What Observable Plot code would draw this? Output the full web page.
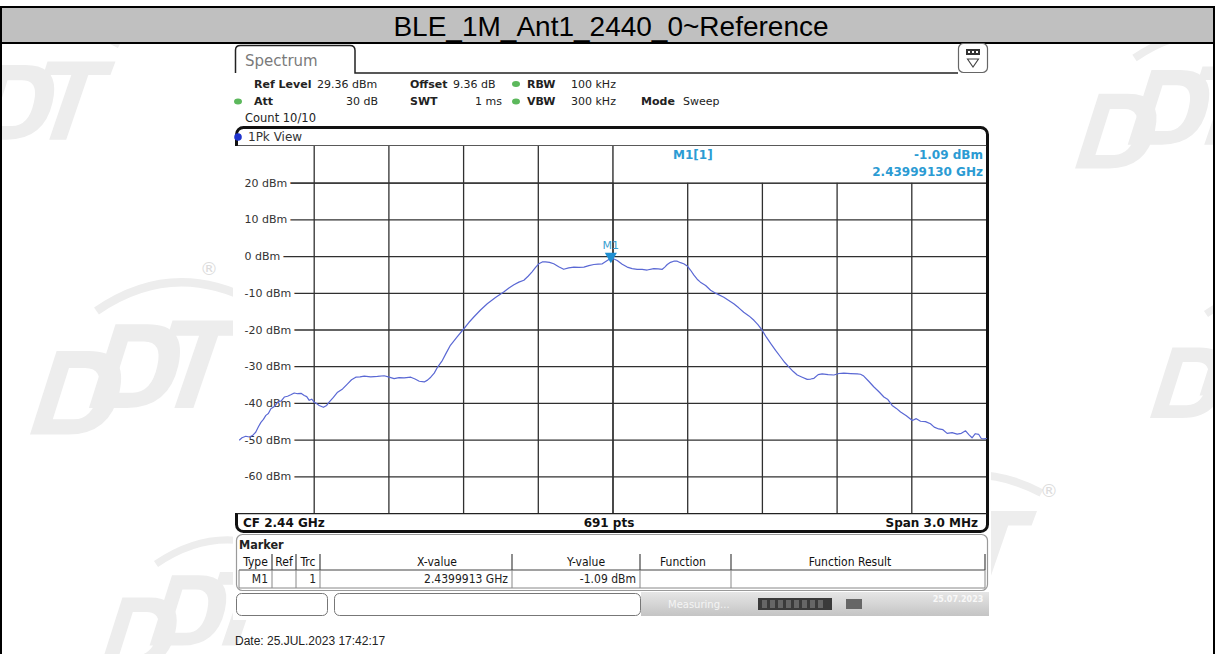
<!DOCTYPE html>
<html><head><meta charset="utf-8">
<script src="https://cdn.jsdelivr.net/npm/d3@7"></script>
<script src="https://cdn.jsdelivr.net/npm/@observablehq/plot@0.6"></script>
<style>
html,body{margin:0;padding:0;background:#fff;}
#page{position:relative;width:1215px;height:654px;overflow:hidden;background:#fff;}
#chrome,#over{position:absolute;left:0;top:0;}
#plot{position:absolute;left:239px;top:146px;width:747px;height:367px;}
</style></head><body>
<div id="page"><svg id="chrome" width="1215" height="654"></svg><div id="plot"></div><svg id="over" width="1215" height="654" style="pointer-events:none"></svg></div>
<script>
// ---------------- data ----------------
const titleText = "BLE_1M_Ant1_2440_0~Reference";
const dateText = "Date: 25.JUL.2023  17:42:17";
const centerFreqGHz = 2.44;
const spanMHz = 3.0;
const refLevelDbm = 29.36;
const sweepPoints = 691;
const yTickLabels = ["20 dBm","10 dBm","0 dBm","-10 dBm","-20 dBm","-30 dBm","-40 dBm","-50 dBm","-60 dBm"];
const headerRow1 = [["Ref Level",true],["29.36 dBm",false],["Offset",true],["9.36 dB",false],["RBW",true],["100 kHz",false]];
const headerRow2 = [["Att",true],["30 dB",false],["SWT",true],["1 ms",false],["VBW",true],["300 kHz",false],["Mode",true],["Sweep",false]];
const headerRow3 = "Count 10/10";
const traceName = "1Pk View";
// trace: frequency offset from centre (MHz) and level (dBm)
const traceOffsetMHz = [
 -1.500,-1.490,-1.475,-1.460,-1.448,-1.435,-1.424,-1.414,-1.404,-1.394,-1.384,-1.374,-1.360,-1.347,-1.333,-1.320,
 -1.307,-1.294,-1.280,-1.267,-1.253,-1.240,-1.230,-1.220,-1.210,-1.200,-1.190,-1.180,-1.163,-1.150,-1.140,-1.123,
 -1.106,-1.086,-1.066,-1.050,-1.033,-1.016,-0.999,-0.973,-0.946,-0.919,-0.899,-0.879,-0.859,-0.839,-0.812,-0.795,
 -0.778,-0.758,-0.745,-0.732,-0.718,-0.705,-0.685,-0.669,-0.653,-0.626,-0.599,-0.579,-0.559,-0.532,-0.505,-0.472,
 -0.439,-0.418,-0.398,-0.378,-0.358,-0.341,-0.325,-0.311,-0.298,-0.284,-0.271,-0.255,-0.238,-0.218,-0.198,-0.178,
 -0.157,-0.137,-0.117,-0.097,-0.077,-0.060,-0.043,-0.023,-0.0087,0.004,0.017,0.037,0.057,0.077,0.097,0.117,
 0.137,0.164,0.181,0.198,0.208,0.218,0.231,0.244,0.258,0.271,0.284,0.298,0.311,0.325,0.338,0.351,
 0.372,0.392,0.412,0.445,0.465,0.485,0.505,0.525,0.546,0.566,0.582,0.599,0.616,0.633,0.653,0.673,
 0.690,0.706,0.723,0.740,0.760,0.780,0.794,0.807,0.824,0.840,0.864,0.887,0.907,0.927,0.954,0.981,
 0.994,1.007,1.027,1.047,1.067,1.088,1.104,1.121,1.138,1.155,1.178,1.202,1.218,1.235,1.255,1.275,
 1.290,1.308,1.325,1.342,1.362,1.382,1.399,1.416,1.430,1.442,1.455,1.469,1.479,1.489,1.500];
const traceLevelDbm = [
 -50.6,-50.0,-49.6,-49.8,-49.4,-48.5,-47.0,-45.8,-45.0,-43.9,-43.4,-42.1,-41.5,-40.3,-40.0,-38.9,
 -38.7,-38.3,-37.8,-38.0,-37.9,-38.5,-38.8,-39.8,-39.5,-40.3,-40.7,-41.2,-41.7,-41.2,-40.3,-39.0,
 -37.6,-36.7,-35.3,-34.2,-33.5,-33.4,-33.2,-33.4,-33.3,-33.1,-33.5,-33.9,-33.6,-33.7,-33.5,-34.0,
 -34.6,-34.8,-34.3,-33.5,-32.4,-30.8,-28.9,-26.8,-24.8,-22.5,-20.3,-18.6,-17.1,-15.2,-13.5,-11.8,
 -10.3,-9.2,-8.3,-7.6,-7.1,-6.0,-4.8,-3.6,-2.6,-2.1,-2.1,-2.2,-2.6,-3.4,-4.1,-3.7,
 -3.5,-3.6,-3.5,-3.1,-2.8,-2.7,-2.6,-1.7,-1.09,-1.3,-1.7,-2.7,-3.5,-3.9,-4.1,-4.1,
 -4.3,-3.9,-4.0,-4.1,-3.5,-2.8,-2.2,-1.9,-1.9,-2.3,-2.6,-3.2,-4.3,-5.7,-6.8,-7.6,
 -8.5,-9.8,-10.6,-11.7,-12.6,-13.5,-14.6,-15.8,-16.8,-18.0,-19.2,-20.7,-22.6,-24.3,-26.2,-28.0,
 -29.5,-30.7,-31.9,-32.9,-33.5,-34.1,-34.0,-33.8,-32.8,-32.6,-32.8,-32.9,-32.5,-32.4,-32.5,-32.6,
 -32.7,-33.2,-34.6,-36.1,-37.4,-38.9,-39.6,-41.2,-42.0,-43.0,-44.0,-45.3,-44.8,-45.5,-45.6,-46.2,
 -47.1,-47.6,-47.8,-48.8,-48.6,-49.0,-48.8,-48.1,-49.2,-50.0,-48.9,-49.1,-50.2,-50.3,-50.2];
const markerName = "M1";
const markerFreqGHz = 2.4399913;
const markerLevelDbm = -1.09;
const markerInfoFreq = "2.43999130 GHz";
const tableColumns = ["Type","Ref","Trc","X-value","Y-value","Function","Function Result"];
const tableRow = [markerName, "", "1", markerFreqGHz + " GHz", markerLevelDbm.toFixed(2) + " dBm", "", ""];

// ---------------- chrome ----------------
const F = "DejaVu Sans";
const svg = d3.select("#chrome");
function txt(g, s, x, y, o = {}) {
  return g.append("text").attr("x", x).attr("y", y).attr("dominant-baseline", "central")
    .attr("font-family", o.ff || F).attr("font-size", o.fs || 11).attr("font-weight", o.fw || "normal")
    .attr("fill", o.fill || "#222").attr("text-anchor", o.anchor || "start").text(s);
}
function rrect(g, x, y, w, h, r, o = {}) {
  return g.append("rect").attr("x", x).attr("y", y).attr("width", w).attr("height", h).attr("rx", r)
    .attr("fill", o.fill || "none").attr("stroke", o.stroke || "none").attr("stroke-width", o.sw || 1);
}
function line(g, x1, y1, x2, y2, stroke, sw) {
  g.append("line").attr("x1", x1).attr("y1", y1).attr("x2", x2).attr("y2", y2).attr("stroke", stroke).attr("stroke-width", sw);
}
// faint logo watermarks (decorative shapes)
function logo(x, y, s) {
  const g = svg.append("g").attr("transform", `translate(${x},${y}) scale(${s})`).attr("fill", "#ededed");
  const D = "M0,110 L28,22 L62,22 Q104,22 94,66 Q84,110 40,110 Z M24,94 L41,40 L58,40 Q78,40 72,66 Q66,94 46,94 Z";
  g.append("path").attr("d", D).attr("fill-rule", "evenodd");
  g.append("path").attr("d", D).attr("fill-rule", "evenodd").attr("transform", "translate(62,-28)");
  g.append("path").attr("d", "M150,-10 L230,-10 L224,6 L198,6 L172,82 L152,82 L178,6 L145,6 Z");
  g.append("path").attr("d", "M70,-20 Q150,-75 235,-30").attr("fill", "none").attr("stroke", "#ededed").attr("stroke-width", 9);
}
logo(-80, 70, 0.85);
logo(30, 330, 0.95);
logo(1075, 75, 0.85);
logo(1150, 330, 0.8);
logo(830, 520, 0.9);
logo(100, 580, 0.8);
txt(svg, "®", 200, 268, {fs: 18, fill: "#dcdcdc"});
txt(svg, "®", 1040, 490, {fs: 18, fill: "#dcdcdc"});

// page frame + title bar
svg.append("rect").attr("x", 0).attr("y", 6).attr("width", 1215).attr("height", 2).attr("fill", "#000");
svg.append("rect").attr("x", 0).attr("y", 8).attr("width", 1215).attr("height", 34).attr("fill", "#c0c0c0");
svg.append("rect").attr("x", 0).attr("y", 42).attr("width", 1215).attr("height", 2).attr("fill", "#000");
svg.append("rect").attr("x", 0).attr("y", 6).attr("width", 2).attr("height", 648).attr("fill", "#000");
svg.append("rect").attr("x", 1213).attr("y", 6).attr("width", 2).attr("height", 648).attr("fill", "#000");
txt(svg, titleText, 611, 26, {ff: "Liberation Sans", fs: 28, anchor: "middle", fill: "#000"});

// instrument screen background
svg.append("rect").attr("x", 233).attr("y", 44).attr("width", 758).attr("height", 576).attr("fill", "#fff");
// tab
svg.append("path").attr("d", "M235.5,73 V50 Q235.5,45.5 240.5,45.5 H350 Q355,45.5 355,50.5 V73 H958")
  .attr("fill", "none").attr("stroke", "#222").attr("stroke-width", 1.5);
txt(svg, "Spectrum", 245, 61, {fs: 15, fill: "#7a7a7a"});
// icon
rrect(svg, 958.5, 43.5, 29, 29, 5, {fill: "#fff", stroke: "#666", sw: 1.2});
svg.append("rect").attr("x", 966).attr("y", 49).attr("width", 14).attr("height", 6).attr("fill", "#333");
[968,972,976].forEach(x => svg.append("rect").attr("x", x).attr("y", 51).attr("width", 2).attr("height", 2).attr("fill", "#fff"));
svg.append("path").attr("d", "M967.5,59 H978.5 L973,67 Z").attr("fill", "none").attr("stroke", "#444").attr("stroke-width", 1.1);

// header settings
const h1x = [254, 317, 410, 453, 527, 571];
headerRow1.forEach(([s, b], i) => txt(svg, s, h1x[i], 84, {fw: b ? "bold" : "normal", fs: 11, fill: "#222"}));
const h2x = [[254,"start"],[378,"end"],[410,"start"],[502,"end"],[527,"start"],[571,"start"],[641,"start"],[683,"start"]];
headerRow2.forEach(([s, b], i) => txt(svg, s, h2x[i][0], 101.5, {fw: b ? "bold" : "normal", fs: 11, anchor: h2x[i][1], fill: "#222"}));
txt(svg, headerRow3, 245, 118, {fs: 11.5, fill: "#222"});
[[516,84],[516,101.5],[238,101.5]].forEach(([x,y]) => svg.append("ellipse").attr("cx", x).attr("cy", y).attr("rx", 4).attr("ry", 3).attr("fill", "#5cb85c"));

// diagram frame
rrect(svg, 236.5, 127.5, 751, 404, 7, {fill: "#fff", stroke: "#111", sw: 3});
svg.append("circle").attr("cx", 238).attr("cy", 137).attr("r", 3.8).attr("fill", "#1f33cc");
txt(svg, traceName, 248, 137, {fs: 12, fill: "#333"});
line(svg, 237, 146, 987, 146, "#222", 1.6);
line(svg, 237, 513.5, 987, 513.5, "#222", 1.6);
txt(svg, "CF " + centerFreqGHz + " GHz", 243, 523, {fs: 12, fw: "bold", fill: "#111"});
txt(svg, sweepPoints + " pts", 609, 523, {fs: 12, fw: "bold", anchor: "middle", fill: "#111"});
txt(svg, "Span " + spanMHz.toFixed(1) + " MHz", 978, 523, {fs: 12, fw: "bold", anchor: "end", fill: "#111"});

// marker table
rrect(svg, 236.5, 534.5, 751, 56, 6, {fill: "#fff", stroke: "#9a9a9a", sw: 1.2});
txt(svg, "Marker", 239, 544, {ff: "DejaVu Sans Condensed", fs: 12.5, fw: "bold", fill: "#222"});
const colEdges = [239, 272, 296, 320, 512, 640, 731, 985];
const headCx = [255.5, 284, 308, 437, 586, 683, 850];
line(svg, 239, 570, 985, 570, "#444", 1.2);
line(svg, 239, 588, 985, 588, "#888", 1);
colEdges.forEach((x, i) => { if (i > 0) line(svg, x, 554, x, 570, "#444", 1.2); line(svg, x, 570, x, 588, "#888", 1); });
tableColumns.forEach((s, i) => txt(svg, s, headCx[i], 562, {ff: "DejaVu Sans Condensed", fs: 12, anchor: "middle", fill: "#111"}));
tableRow.forEach((s, i) => { if (s) txt(svg, s, colEdges[i + 1] - 4, 579, {ff: "DejaVu Sans Condensed", fs: 12, anchor: "end", fill: "#222"}); });

// status bar
rrect(svg, 236.5, 593.5, 91, 22, 5, {fill: "#fff", stroke: "#777", sw: 1});
rrect(svg, 334.5, 593.5, 306, 22, 5, {fill: "#fff", stroke: "#777", sw: 1});
const grad = svg.append("defs").append("linearGradient").attr("id", "gb").attr("x1", 0).attr("x2", 0).attr("y1", 0).attr("y2", 1);
grad.append("stop").attr("offset", 0).attr("stop-color", "#e6e6e6");
grad.append("stop").attr("offset", 1).attr("stop-color", "#c4c4c4");
svg.append("rect").attr("x", 641).attr("y", 592).attr("width", 348).attr("height", 24).attr("fill", "url(#gb)");
txt(svg, "Measuring...", 668, 604, {fs: 10, fill: "#f4f4f4"});
svg.append("rect").attr("x", 758).attr("y", 598).attr("width", 74).attr("height", 12).attr("fill", "#3a3a3a");
d3.range(8).forEach(i => svg.append("rect").attr("x", 762 + i * 8).attr("y", 600).attr("width", 5).attr("height", 8).attr("fill", "#666"));
svg.append("rect").attr("x", 846).attr("y", 599).attr("width", 16).attr("height", 10).attr("fill", "#666");
txt(svg, "25.07.2023", 958, 599, {fs: 8, fw: "bold", anchor: "middle", fill: "#f8f8f8"});

// date
txt(svg, dateText, 235, 641, {ff: "Liberation Sans", fs: 12, fill: "#222"});

// ---------------- plot ----------------
const xGrid = d3.range(1, 10).map(i => -spanMHz / 2 + i * spanMHz / 10);
const yGrid = d3.range(1, 10).map(i => refLevelDbm - 10 * i);
const trace = traceOffsetMHz.map((f, i) => ({f, dbm: traceLevelDbm[i]}));
const mk = [{f: (markerFreqGHz - centerFreqGHz) * 1000, dbm: markerLevelDbm}];
const gridStyle = {stroke: "#303030", strokeWidth: 1.3};
const chart = Plot.plot({
  width: 747, height: 367, margin: 0,
  x: {domain: [-spanMHz / 2, spanMHz / 2], axis: null},
  y: {domain: [refLevelDbm - 100, refLevelDbm], axis: null},
  style: {background: "#fff", overflow: "visible", fontFamily: F},
  marks: [
    Plot.ruleX(xGrid, gridStyle),
    Plot.ruleY(yGrid, gridStyle),
    Plot.rect([0], {x1: 0, x2: spanMHz / 2, y1: yGrid[0], y2: refLevelDbm, fill: "#fff"}),
    Plot.ruleX([0], gridStyle),
    Plot.ruleY([yGrid[0]], gridStyle),
    Plot.ruleX([-spanMHz / 2], {stroke: "#fff", strokeWidth: 10}),
    Plot.text(yGrid, {x: -spanMHz / 2, y: d => d, text: (d, i) => yTickLabels[i], textAnchor: "start", dx: 5,
      fontSize: 11, fill: "#333", stroke: "#fff", strokeWidth: 8, paintOrder: "stroke"}),
    Plot.line(trace, {x: "f", y: "dbm", stroke: "#5a68d4", strokeWidth: 1.2}),
    Plot.dot(mk, {x: "f", y: "dbm", symbol: "triangle", rotate: 180, r: 4.5, fill: "#1f8fd2", dy: -2}),
    Plot.text(mk, {x: "f", y: "dbm", text: () => markerName, dy: -13, fill: "#3aa0d0", fontSize: 11})
  ]
});
document.getElementById("plot").append(chart);

// marker info box
const over = d3.select("#over");
txt(over, markerName + "[1]", 673, 155, {fs: 12, fw: "bold", fill: "#2b9bd3"});
txt(over, markerLevelDbm.toFixed(2) + " dBm", 983, 155, {fs: 12, fw: "bold", anchor: "end", fill: "#2b9bd3"});
txt(over, markerInfoFreq, 983, 172, {fs: 12, fw: "bold", anchor: "end", fill: "#2b9bd3"});
</script>
</body></html>
